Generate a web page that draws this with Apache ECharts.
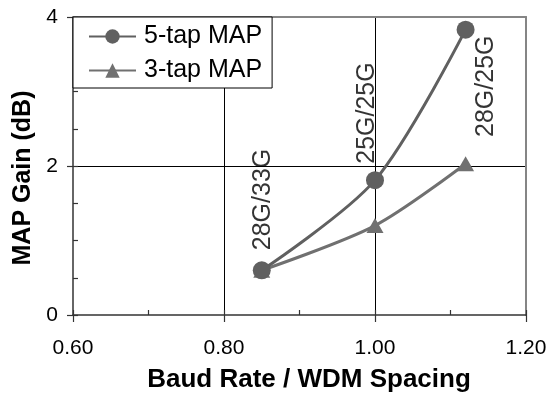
<!DOCTYPE html>
<html>
<head>
<meta charset="utf-8">
<script src="https://cdn.jsdelivr.net/npm/echarts@6/dist/echarts.min.js"></script>
<style>
  html, body { margin: 0; padding: 0; background: #fff; }
  #chart { width: 558px; height: 393px; }
</style>
</head>
<body>
<div id="chart"></div>
<script>
// values
const ratio = [0.85, 1.00, 1.12]
const gain5tap = [0.60, 1.81, 3.83]
const gain3tap = [0.60, 1.20, 2.03]
const xTicks = [0.60, 0.80, 1.00, 1.20]
const yTicks = [0, 2, 4]

// rotated annotations (text, anchor in data units)
const noteText = ['28G/33G', '25G/25G', '28G/25G']
const noteX = [0.852, 0.989, 1.147]
const noteY = [0.87, 2.03, 2.39]

const font = "'Liberation Sans', Arial, sans-serif"
const axisColor = '#333'
const borderColor = '#858585'
const textColor = '#000'

const chart = echarts.init(document.getElementById('chart'))

const pairs = (xs, ys) => xs.map((x, i) => [x, ys[i]])

let option = {
  animation: false,
  textStyle: { fontFamily: font },
  grid: { left: 73, right: 32, top: 17, bottom: 78, outerBoundsMode: 'none' },
  legend: {
    data: ['5-tap MAP', '3-tap MAP'],
    orient: 'vertical',
    left: 73,
    top: 17,
    padding: [7, 10, 5, 15],
    itemGap: 9,
    itemWidth: 47,
    itemHeight: 18,
    backgroundColor: '#fff',
    borderColor: '#000',
    borderWidth: 1,
    textStyle: { fontSize: 25, color: textColor, fontFamily: font, padding: [0, 0, 0, 3] }
  },
  xAxis: [
    {
      type: 'value',
      min: xTicks[0],
      max: xTicks[xTicks.length - 1],
      interval: 0.2,
      name: 'Baud Rate / WDM Spacing',
      nameLocation: 'middle',
      nameGap: 52,
      nameTextStyle: { fontSize: 26, fontWeight: 'bold', color: textColor, padding: [0, 0, 0, 19] },
      axisLine: { lineStyle: { color: axisColor, width: 1.5 } },
      axisTick: { length: 7, lineStyle: { color: axisColor, width: 1.2 } },
      axisLabel: { fontSize: 21, color: textColor, margin: 23, formatter: v => v.toFixed(2) },
      splitLine: { show: true, showMinLine: false, showMaxLine: false, lineStyle: { color: '#000', width: 1 } }
    },
    {
      // top border
      type: 'value', position: 'top',
      min: xTicks[0], max: xTicks[xTicks.length - 1],
      axisLine: { show: true, onZero: false, lineStyle: { color: borderColor, width: 2 } },
      axisTick: { show: false }, axisLabel: { show: false }, splitLine: { show: false }
    },
    {
      // inner minor ticks on bottom axis
      type: 'value', position: 'bottom',
      min: xTicks[0], max: xTicks[xTicks.length - 1], interval: 0.1,
      axisLine: { show: false },
      axisTick: { inside: true, length: 5, lineStyle: { color: axisColor, width: 1.2 } },
      axisLabel: { show: false }, splitLine: { show: false }
    }
  ],
  yAxis: [
    {
      type: 'value',
      min: yTicks[0],
      max: yTicks[yTicks.length - 1],
      interval: 2,
      name: 'MAP Gain (dB)',
      nameLocation: 'middle',
      nameGap: 37,
      nameTextStyle: { fontSize: 25, fontWeight: 'bold', color: textColor, padding: [0, 24, 0, 0] },
      axisLine: { lineStyle: { color: axisColor, width: 1.5 } },
      axisTick: { length: 6, lineStyle: { color: axisColor, width: 1.2 } },
      axisLabel: { fontSize: 21, color: textColor, margin: 15 },
      splitLine: { show: true, showMinLine: false, showMaxLine: false, lineStyle: { color: '#000', width: 1 } }
    },
    {
      // right border
      type: 'value', position: 'right',
      min: yTicks[0], max: yTicks[yTicks.length - 1],
      axisLine: { show: true, onZero: false, lineStyle: { color: borderColor, width: 2 } },
      axisTick: { show: false }, axisLabel: { show: false }, splitLine: { show: false }
    },
    {
      // inner minor ticks on left axis
      type: 'value', position: 'left',
      min: yTicks[0], max: yTicks[yTicks.length - 1], interval: 0.5,
      axisLine: { show: false },
      axisTick: { inside: true, length: 5, lineStyle: { color: axisColor, width: 1.2 } },
      axisLabel: { show: false }, splitLine: { show: false }
    }
  ],
  series: [
    {
      name: '3-tap MAP',
      type: 'line',
      smooth: 0.3,
      symbol: 'triangle',
      symbolSize: [17, 15],
      lineStyle: { color: '#707070', width: 3 },
      itemStyle: { color: '#707070' },
      data: pairs(ratio, gain3tap)
    },
    {
      name: '5-tap MAP',
      type: 'line',
      smooth: 0.3,
      symbol: 'circle',
      symbolSize: 18,
      lineStyle: { color: '#606060', width: 3 },
      itemStyle: { color: '#606060' },
      data: pairs(ratio, gain5tap)
    },
    {
      name: 'notes',
      type: 'scatter',
      symbolSize: 0,
      silent: true,
      label: {
        show: true,
        position: [0, 0],
        rotate: 90,
        align: 'left',
        verticalAlign: 'middle',
        fontSize: 25,
        color: textColor,
        textBorderWidth: 0,
        formatter: p => noteText[p.dataIndex]
      },
      data: pairs(noteX, noteY)
    }
  ]
}

chart.setOption(option)
</script>
</body>
</html>
